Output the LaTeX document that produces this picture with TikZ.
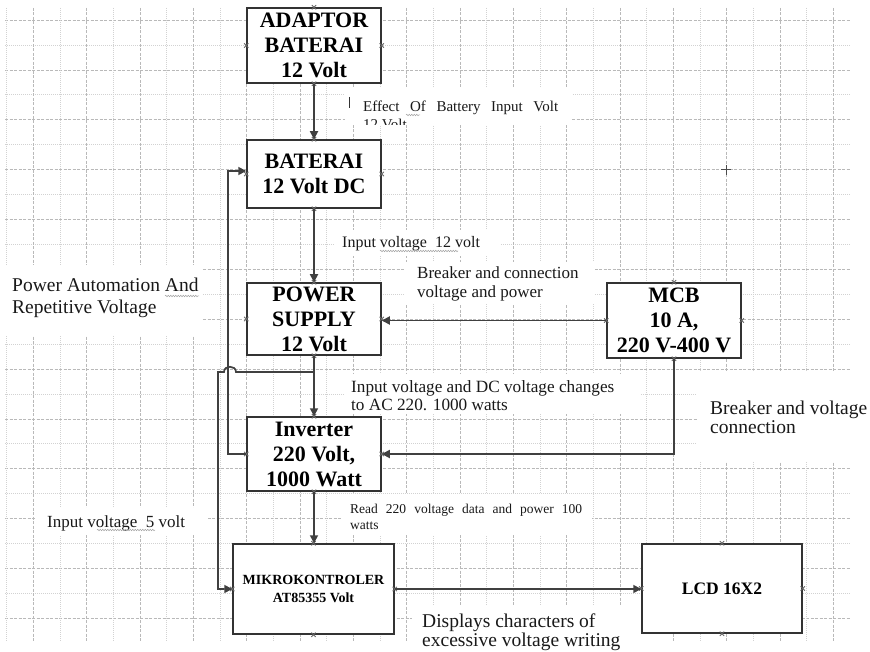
\documentclass[tikz,border=0pt]{standalone}
\usepackage{fontspec}
\setmainfont{Liberation Serif}
\usetikzlibrary{arrows.meta,decorations.pathmorphing}
\tikzset{
 gridA/.style={gray!55, line width=0.7pt, dash pattern=on 3pt off 1.5pt},
 gridB/.style={gray!35, line width=0.7pt, dash pattern=on 1pt off 1pt},
 blk/.style={draw=black!80, line width=1.5pt, fill=white, inner sep=0pt, align=center, font=\bfseries\fontsize{22}{25}\selectfont},
 conn/.style={draw=black!75, line width=1.7pt},
 arr/.style={conn, -{Triangle[length=8pt,width=8pt]}},
 lbl/.style={anchor=base west, inner sep=0pt, text=black!90},
 xmark/.style={draw=black!60, line width=0.8pt},
 squig/.style={draw=gray!70, line width=0.5pt, decorate, decoration={snake, amplitude=0.8pt, segment length=2.5pt}},
 bg/.style={fill=white, draw=none}
}
\begin{document}
\begin{tikzpicture}[x=1pt,y=-1pt]
\useasboundingbox (0,0) rectangle (870,652);
\fill[white] (0,0) rectangle (870,652);
% grid
\foreach \k in {0,2,...,24} \draw[gridA] (5,{20+24.93*\k}) -- (850,{20+24.93*\k});
\foreach \k in {1,3,...,23} \draw[gridB] (5,{20+24.93*\k}) -- (850,{20+24.93*\k});
\foreach \k in {1,3,...,31} \draw[gridA] ({6.7+26.67*\k},8) -- ({6.7+26.67*\k},642);
\foreach \k in {0,2,...,30} \draw[gridB] ({6.7+26.67*\k},8) -- ({6.7+26.67*\k},642);
% white label backgrounds
\fill[bg] (345,88) rectangle (572,125);
\fill[bg] (335,230) rectangle (500,256);
\fill[bg] (405,262) rectangle (595,304);
\fill[bg] (345,374) rectangle (640,414);
\fill[bg] (0,265) rectangle (202,335);
\fill[bg] (697,372) rectangle (870,462);
\fill[bg] (36,508) rectangle (208,535);
\fill[bg] (342,494) rectangle (592,535);
\fill[bg] (412,605) rectangle (652,652);
% boxes
\node[blk, minimum width=134pt, minimum height=75pt] (ad) at (314,45.5) {ADAPTOR\\BATERAI\\12 Volt};
\node[blk, minimum width=134pt, minimum height=68pt] (bat) at (314,174) {BATERAI\\12 Volt DC};
\node[blk, minimum width=134pt, minimum height=72pt] (ps) at (314,319) {POWER\\SUPPLY\\12 Volt};
\node[blk, minimum width=134pt, minimum height=75pt] (mcb) at (674,320.5) {MCB\\10 A,\\220 V-400 V};
\node[blk, minimum width=134pt, minimum height=74pt] (inv) at (314,454) {Inverter\\220 Volt,\\1000 Watt};
\node[blk, minimum width=161pt, minimum height=90pt, font=\bfseries\fontsize{14}{18}\selectfont] (mk) at (313.5,589) {MIKROKONTROLER\\AT85355 Volt};
\node[blk, minimum width=160pt, minimum height=89pt, font=\bfseries\fontsize{17.5}{20}\selectfont] (lcd) at (722,588.5) {LCD 16X2};
% connection-site marks
\foreach \n in {ad,bat,ps,mcb,inv,mk,lcd}
  \foreach \a in {north,south,east,west}
    \draw[xmark] ([shift={(-2.2pt,-2.2pt)}]\n.\a) -- ([shift={(2.2pt,2.2pt)}]\n.\a)
                 ([shift={(-2.2pt,2.2pt)}]\n.\a) -- ([shift={(2.2pt,-2.2pt)}]\n.\a);
% connectors
\draw[arr] (ad.south) -- (bat.north);
\draw[arr] (bat.south) -- (ps.north);
\draw[arr] (mcb.west) -- (mcb.west -| ps.east);
\draw[arr] (ps.south) -- (inv.north);
\draw[arr] (inv.south) -- (inv.south |- mk.north);
\draw[arr] (mcb.south) |- (inv.east);
\draw[arr] (mk.east) -- (mk.east -| lcd.west);
\coordinate (batw) at ([yshift=3pt]bat.west);
\draw[arr] (inv.west) -- ++(-18,0) |- (batw);
\coordinate (j1) at (314,372);
\draw[arr] (j1) -- (236,372) .. controls (236,365) and (224,365) .. (224,372) -- (218,372) -- (218,589) -- (mk.west);
% small marks
\draw[black!70, line width=1pt] (721,170) -- (731,170) (726,165) -- (726,175);
\draw[black!80, line width=0.8pt] (349,97) -- (349,108);
% labels
\node[lbl, font=\fontsize{15}{18}\selectfont] (eff1) at (363,111.5) {\makebox[195pt][s]{Effect Of Battery Input Volt}};
\begin{scope}
\clip (345,88) rectangle (572,125);
\node[lbl, font=\fontsize{15}{18}\selectfont] (eff2) at (363,130) {12 Volt};
\end{scope}
\node[lbl, font=\fontsize{16}{18}\selectfont] (iv12) at (342,247.5) {Input voltage\ \ 12 volt};
\node[lbl, font=\fontsize{17}{20}\selectfont] (bc1) at (417,278.5) {Breaker and connection};
\node[lbl, font=\fontsize{17}{20}\selectfont] (bc2) at (417,298) {voltage and power};
\node[lbl, font=\fontsize{17.2}{18}\selectfont] (dc1) at (351,392.5) {Input voltage and DC voltage changes};
\node[lbl, font=\fontsize{17.2}{18}\selectfont] (dc2) at (351,410) {to AC 220. 1000 watts};
\node[lbl, font=\fontsize{19.5}{22}\selectfont] (pa1) at (12,291.5) {Power Automation And};
\node[lbl, font=\fontsize{19.5}{22}\selectfont] (pa2) at (12,313) {Repetitive Voltage};
\node[lbl, font=\fontsize{19.5}{22}\selectfont] (bv1) at (710,414) {Breaker and voltage};
\node[lbl, font=\fontsize{19.5}{22}\selectfont] (bv2) at (710,433) {connection};
\node[lbl, font=\fontsize{17}{20}\selectfont] (iv5) at (47,527) {Input voltage\ \ 5 volt};
\node[lbl, font=\fontsize{13.5}{15}\selectfont] (rd1) at (350,513) {\makebox[232pt][s]{Read 220 voltage data and power 100}};
\node[lbl, font=\fontsize{13.5}{15}\selectfont] (rd2) at (350,529) {watts};
\node[lbl, font=\fontsize{19.5}{22}\selectfont] (ds1) at (422,627) {Displays characters of};
\node[lbl, font=\fontsize{19.5}{22}\selectfont] (ds2) at (422,646.5) {excessive voltage writing};
% spell-check squiggles
\draw[squig] (165,296) -- (199,296);
\draw[squig] (380,251) -- (458,251);
\draw[squig] (406,115) -- (420,115);
\draw[squig] (97,530) -- (155,530);
\end{tikzpicture}
\end{document}
